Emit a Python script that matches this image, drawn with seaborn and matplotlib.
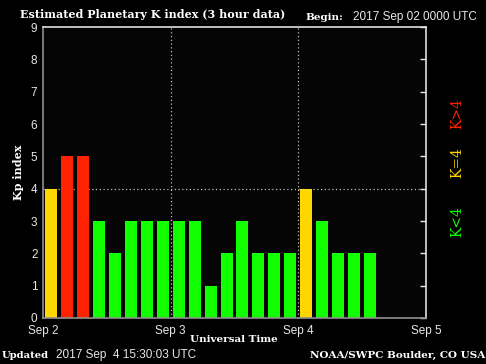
import numpy as np
import pandas as pd
import seaborn as sns
import matplotlib.pyplot as plt
from matplotlib.ticker import MultipleLocator, FixedLocator

# Kp values, 3 hour intervals starting 2017 Sep 02 0000 UTC
kp = [4, 5, 5, 3, 2, 3, 3, 3,
      3, 3, 1, 2, 3, 2, 2, 2,
      4, 3, 2, 2, 2]
day_labels = ["Sep 2", "Sep 3", "Sep 4", "Sep 5"]
interval_hours = 3

# colour class per bar
def k_class(v):
    if v < 4:
        return "low"
    if v == 4:
        return "mid"
    return "high"

k_colors = {"low": "#11ff00", "mid": "#ffd700", "high": "#ff2200"}

df = pd.DataFrame({
    "hour": [interval_hours * i + interval_hours / 2 for i in range(len(kp))],
    "kp": kp,
})
df["cls"] = df["kp"].apply(k_class)

sns.set_style("dark")
plt.rcParams["font.family"] = ["Liberation Sans", "DejaVu Sans"]

W, H = 486, 364
fig = plt.figure(figsize=(W / 100, H / 100), dpi=100, facecolor="black")
ax = fig.add_axes([43 / W, 1 - 318 / H, (426 - 43) / W, (318 - 27) / H])
ax.set_facecolor("#050505")

# grid behind the bars
ax.axhline(4, color="#bbbbbb", lw=0.9, ls=(0, (1, 2)), zorder=0)
for d in [24, 48]:
    ax.axvline(d, color="#bbbbbb", lw=0.9, ls=(0, (1, 2)), zorder=0)

sns.barplot(data=df, x="hour", y="kp", hue="cls", palette=k_colors,
            native_scale=True, width=0.75, legend=False, ax=ax,
            edgecolor="none", saturation=1, zorder=2)

ax.set_xlim(0, 72)
ax.set_ylim(0, 9)
ax.xaxis.set_major_locator(FixedLocator([0, 24, 48, 72]))
ax.set_xticklabels(day_labels)
ax.xaxis.set_minor_locator(FixedLocator(df["hour"].tolist()))
ax.yaxis.set_major_locator(MultipleLocator(1))

ax.tick_params(axis="both", which="major", direction="in", colors="#e8e8e8",
               labelsize=8.5, length=4, width=1)
ax.tick_params(axis="x", which="major", pad=5, length=5, color="white")
ax.tick_params(axis="x", which="minor", direction="in", length=6,
               width=1, color="#222222")
ax.tick_params(axis="y", right=True, labelright=False, pad=4)
ax.set_xlabel("")
ax.set_ylabel("")

for s in ["left", "bottom"]:
    ax.spines[s].set_color("#909090")
for s in ["top", "right"]:
    ax.spines[s].set_color("#e0e0e0")
for s in ax.spines.values():
    s.set_visible(True)
    s.set_linewidth(1.2)
ax.grid(False)

serif = {"family": "DejaVu Serif", "weight": "bold", "color": "white"}
sans = {"family": "Liberation Sans", "color": "#e8e8e8"}

def fx(px):
    return px / W

def fy(py):
    return 1 - py / H

fig.text(fx(20), fy(15), "Estimated Planetary K index (3 hour data)",
         fontsize=8, va="center", **serif)
fig.text(fx(305), fy(17), "Begin:", fontsize=7.5, va="center", **serif)
fig.text(fx(353), fy(17), "2017 Sep 02 0000 UTC", fontsize=8.5,
         va="center", **sans)

fig.text(fx(18), fy(172), "Kp index", fontsize=8, rotation=90,
         ha="center", va="center", **serif)
fig.text(fx(234), fy(340), "Universal Time", fontsize=7.5,
         ha="center", va="center", **serif)

fig.text(fx(2), fy(355), "Updated", fontsize=7.2, va="center", **serif)
fig.text(fx(56), fy(355), "2017 Sep  4 15:30:03 UTC", fontsize=8.5,
         va="center", **sans)
fig.text(fx(485), fy(355), "NOAA/SWPC Boulder, CO USA", fontsize=7.5,
         ha="right", va="center", **serif)

side = [("K<4", 222, k_colors["low"]),
        ("K=4", 163, k_colors["mid"]),
        ("K>4", 114, k_colors["high"])]
for txt, py, col in side:
    fig.text(fx(457), fy(py), txt, fontsize=10, rotation=90, ha="center",
             va="center", family="DejaVu Serif", weight="medium", color=col)

fig.savefig("out.png", dpi=100, facecolor="black")
